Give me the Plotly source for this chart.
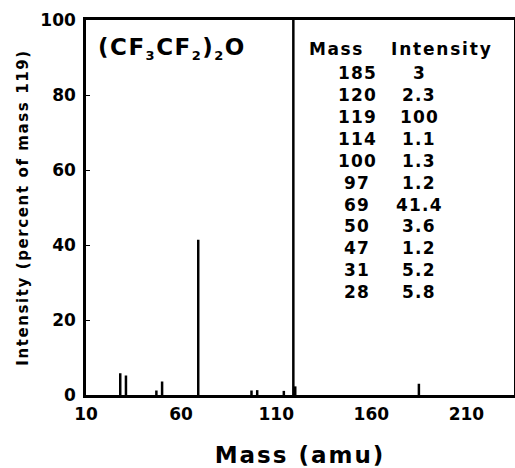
import plotly.graph_objects as go

# Data
masses = [185, 120, 119, 114, 100, 97, 69, 50, 47, 31, 28]
intensities = [3, 2.3, 100, 1.1, 1.3, 1.2, 41.4, 3.6, 1.2, 5.2, 5.8]
x_ticks = [10, 60, 110, 160, 210]
y_ticks = [0, 20, 40, 60, 80, 100]

FONT = "DejaVu Sans"

def spaced(text, px):
    return f'<span style="letter-spacing:{px}px">{text}</span>'

def small_sub(t):
    return f'<sub><span style="font-size:13px">{t}</span></sub>'

# stick spectrum built from the data arrays
sx, sy = [], []
for m, v in zip(masses, intensities):
    sx += [m, m, None]
    sy += [0, v, None]

fig = go.Figure()
fig.add_trace(go.Scatter(
    x=sx, y=sy, mode="lines",
    line=dict(color="black", width=2.5),
    showlegend=False, hoverinfo="skip",
))

# Table annotations
X_MASS, X_INT = 152.6, 185.3
Y_HEAD, Y_ROW0, DY = 92.4, 85.9, 5.85
ann = [
    dict(x=141.5, y=Y_HEAD, text=spaced("Mass", 1.6), font=dict(size=17)),
    dict(x=197.0, y=Y_HEAD, text=spaced("Intensity", 1.8), font=dict(size=17)),
]
for i, (m, v) in enumerate(zip(masses, intensities)):
    yy = Y_ROW0 - i * DY
    ann.append(dict(x=X_MASS, y=yy, text=spaced(str(m), 1.2), font=dict(size=17)))
    ann.append(dict(x=X_INT, y=yy, text=spaced(f"{v:g}", 1.2), font=dict(size=17)))

formula = "(CF" + small_sub("3") + "CF" + small_sub("2") + ")" + small_sub("2") + "O"
ann.append(dict(x=15.0, y=92.3, xanchor="left",
                text=spaced(formula, 1.5),
                font=dict(size=23)))

for a in ann:
    a.setdefault("xanchor", "center")
    a.update(xref="x", yref="y", yanchor="middle", showarrow=False)
    a["font"].update(family=FONT, color="black", weight="bold")

fig.update_layout(
    width=515, height=468,
    margin=dict(l=86, r=1, t=20, b=73, autoexpand=False),
    paper_bgcolor="white", plot_bgcolor="white",
    font=dict(family=FONT, color="black", weight="bold"),
    annotations=ann,
)
fig.update_xaxes(
    range=[10, 235], tickvals=x_ticks, ticktext=[str(t) for t in x_ticks],
    showgrid=False, zeroline=False, automargin=False,
    showline=True, linecolor="black", linewidth=2.5, mirror=True,
    ticks="", tickfont=dict(size=17, family=FONT, weight="bold"),
    ticklabelstandoff=2,
    title=dict(text=spaced("Mass (amu)", 2), font=dict(size=23, family=FONT, weight="bold"),
               standoff=24),
)
fig.update_yaxes(
    range=[0, 100], tickvals=y_ticks,
    showgrid=False, zeroline=False, automargin=False,
    showline=True, linecolor="black", linewidth=2.5, mirror=True,
    ticks="inside", ticklen=4, tickwidth=1, tickcolor="black",
    tickfont=dict(size=17, family=FONT, weight="bold"),
    ticklabelstandoff=4,
    title=dict(text=spaced("Intensity (percent of mass 119)", 1.6),
               font=dict(size=15, family=FONT, weight="bold"), standoff=9),
)

fig.write_html("out.html", config={"displayModeBar": False},
               post_script="document.body.style.margin='0';document.body.style.overflow='hidden';")
